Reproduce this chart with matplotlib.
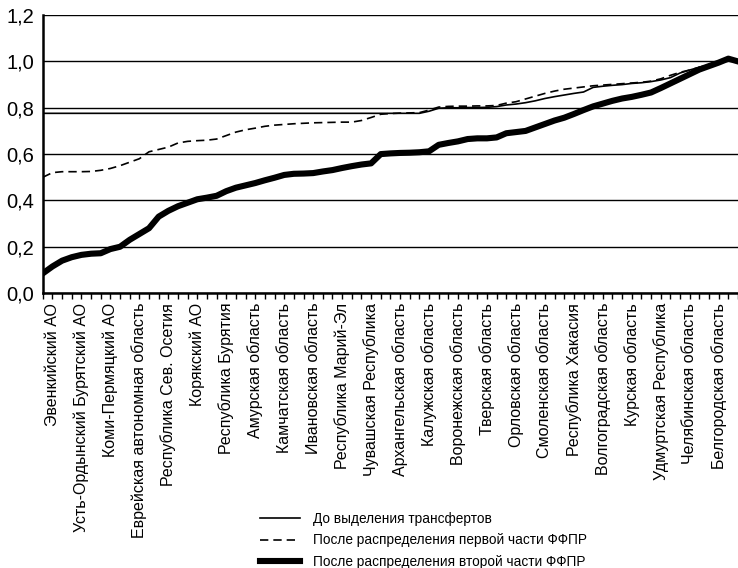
import matplotlib
matplotlib.use("Agg")
import matplotlib.pyplot as plt
from matplotlib.ticker import FuncFormatter, FixedLocator

plt.rcParams['font.family'] = ['Liberation Sans', 'DejaVu Sans']

# подписанные регионы (подпись у каждого третьего)
regions = [
    "Эвенкийский АО", "Усть-Ордынский Бурятский АО", "Коми-Пермяцкий АО",
    "Еврейская автономная область", "Республика Сев. Осетия", "Корякский АО",
    "Республика Бурятия", "Амурская область", "Камчатская область",
    "Ивановская область", "Республика Марий-Эл", "Чувашская Республика",
    "Архангельская область", "Калужская область", "Воронежская область",
    "Тверская область", "Орловская область", "Смоленская область",
    "Республика Хакасия", "Волгоградская область", "Курская область",
    "Удмуртская Республика", "Челябинская область", "Белгородская область",
]

before = [
    0.776, 0.776, 0.776, 0.776, 0.776, 0.776, 0.776, 0.776, 0.776, 0.776,
    0.776, 0.776, 0.776, 0.776, 0.776, 0.776, 0.776, 0.776, 0.776, 0.776,
    0.776, 0.776, 0.776, 0.776, 0.776, 0.776, 0.776, 0.776, 0.776, 0.776,
    0.776, 0.776, 0.776, 0.776, 0.776, 0.776, 0.776, 0.776, 0.776, 0.776,
    0.785, 0.798, 0.800, 0.800, 0.801, 0.801, 0.802, 0.805, 0.812, 0.816,
    0.822, 0.830, 0.840, 0.848, 0.855, 0.862, 0.868, 0.888, 0.893, 0.897,
    0.900, 0.905, 0.908, 0.913, 0.920, 0.930, 0.950, 0.963, 0.975, 0.985,
    0.995, 1.010, 1.000,
]

first_part = [
    0.500, 0.520, 0.524, 0.524, 0.524, 0.525, 0.530, 0.538, 0.550, 0.565,
    0.580, 0.610, 0.620, 0.630, 0.648, 0.655, 0.658, 0.660, 0.665, 0.680,
    0.695, 0.705, 0.712, 0.720, 0.725, 0.728, 0.731, 0.733, 0.735, 0.736,
    0.737, 0.738, 0.738, 0.745, 0.758, 0.772, 0.775, 0.777, 0.778, 0.779,
    0.790, 0.803, 0.806, 0.807, 0.807, 0.808, 0.808, 0.810, 0.820, 0.826,
    0.838, 0.850, 0.862, 0.872, 0.880, 0.885, 0.890, 0.895, 0.898, 0.901,
    0.904, 0.907, 0.910, 0.915, 0.925, 0.940, 0.953, 0.963, 0.975, 0.985,
    0.995, 1.010, 1.000,
]

second_part = [
    0.085, 0.115, 0.140, 0.155, 0.165, 0.170, 0.172, 0.190, 0.200, 0.230,
    0.255, 0.280, 0.330, 0.355, 0.375, 0.390, 0.405, 0.412, 0.420, 0.440,
    0.455, 0.465, 0.475, 0.487, 0.498, 0.510, 0.515, 0.516, 0.518, 0.525,
    0.531, 0.540, 0.548, 0.555, 0.560, 0.600, 0.603, 0.605, 0.606, 0.608,
    0.612, 0.640, 0.648, 0.655, 0.665, 0.668, 0.668, 0.672, 0.690, 0.695,
    0.700, 0.715, 0.730, 0.745, 0.757, 0.773, 0.790, 0.806, 0.818, 0.830,
    0.840, 0.847, 0.856, 0.866, 0.885, 0.905, 0.925, 0.945, 0.965, 0.980,
    0.995, 1.012, 1.000,
]

y_ticks = [0.0, 0.2, 0.4, 0.6, 0.8, 1.0, 1.2]

n = len(second_part)
x = list(range(n))
label_pos = list(range(1, n, 3))[:len(regions)]

fig = plt.figure(figsize=(7.38, 5.68), dpi=100)
ax = fig.add_axes([0.058, 0.484, 0.942, 0.4894])

ax.plot(x, before, color='black', lw=1.2, label='До выделения трансфертов')
ax.plot(x, first_part, color='black', lw=1.2, dashes=(5, 3),
        label='После распределения первой части ФФПР')
ax.plot(x, second_part, color='black', lw=4.4, solid_joinstyle='round',
        label='После распределения второй части ФФПР')

ax.set_xlim(0, n - 1)
ax.set_ylim(0, 1.2)
ax.set_yticks(y_ticks)
ax.yaxis.set_major_formatter(FuncFormatter(lambda v, p: f"{v:.1f}".replace('.', ',')))
ax.grid(axis='y', color='black', lw=1.0)
ax.set_axisbelow(True)

ax.set_xticks(label_pos)
ax.set_xticklabels(regions, rotation=90, fontsize=11.5, va='top', ha='center')
ax.xaxis.set_minor_locator(FixedLocator(x))
ax.tick_params(axis='x', which='both', length=4, width=1, direction='out', pad=3)
ax.tick_params(axis='y', length=0, pad=6, labelsize=14.5)

for s in ['top', 'right']:
    ax.spines[s].set_visible(False)
ax.spines['left'].set_linewidth(1.8)
ax.spines['bottom'].set_linewidth(1.8)

fig.legend(loc='upper left', bbox_to_anchor=(0.348, 0.104), frameon=False,
           fontsize=9.8, handlelength=3.0, handletextpad=0.9, labelspacing=0.56,
           borderaxespad=0, borderpad=0.2)

fig.savefig('out.png', dpi=100)
